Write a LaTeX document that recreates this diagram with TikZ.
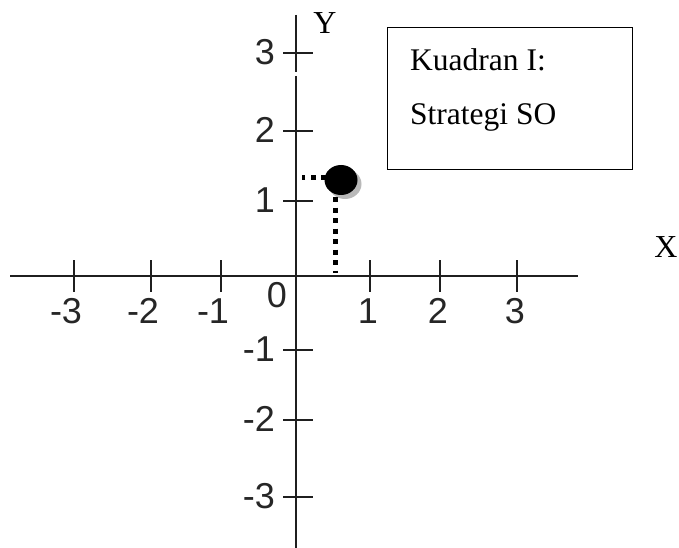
\documentclass[tikz,border=0pt]{standalone}
\usepackage{fontspec}
\setmainfont{Liberation Serif}
\newfontfamily\numfont{Liberation Sans}
\begin{document}
\begin{tikzpicture}[x=1pt,y=-1pt,
  axisline/.style={line width=2.7pt, color=black!88},
  tickline/.style={line width=2.7pt, color=black!88},
  num/.style={font=\numfont\fontsize{36}{36}\selectfont, inner sep=0pt, text=black!85},
  serifbig/.style={font=\fontsize{32}{32}\selectfont, inner sep=0pt},
  boxtext/.style={font=\fontsize{31.5}{31.5}\selectfont, inner sep=0pt, anchor=base west},
  dotline/.style={line width=5pt, dash pattern=on 5pt off 5.5pt},
]
\useasboundingbox (0,0) rectangle (679,548);
% axes
\coordinate (xl) at (10,276);
\coordinate (xr) at (578,276);
\coordinate (yt) at (296,15);
\coordinate (yg1) at (296,72);
\coordinate (yg2) at (296,76);
\coordinate (yb) at (296,548);
\draw[axisline] (xl) -- (xr);
\draw[axisline] (yt) -- (yg1);
\draw[axisline] (yg2) -- (yb);
% x ticks and labels
\foreach \xx/\lab/\nm in {74/{\llap{-}3}/xm3,151/{\llap{-}2}/xm2,221/{\llap{-}1}/xm1,370/1/xp1,440/2/xp2,517/3/xp3}{
  \coordinate (t\nm) at (\xx,260);
  \coordinate (b\nm) at (\xx,292);
  \draw[tickline] (t\nm) -- (b\nm);
  \node[num] (l\nm) at (\xx-2,311) {\lab};
}
\node[num] (l0) at (277,295) {0};
% y ticks and labels
\foreach \yy/\lab/\nm in {53/3/yp3,131/2/yp2,201/1/yp1,350/-1/ym1,420/-2/ym2,497/-3/ym3}{
  \coordinate (l\nm) at (283,\yy);
  \coordinate (r\nm) at (313,\yy);
  \draw[tickline] (l\nm) -- (r\nm);
  \node[num, anchor=east] (n\nm) at (275,\yy-1) {\lab};
}
% axis names
\node[serifbig] (ylab) at (325,23) {Y};
\node[serifbig] (xlab) at (666,247) {X};
% point with shadow and dotted guides
\fill[gray!55] (345,184) ellipse [x radius=16.5pt, y radius=15pt];
\fill[black] (341,180) ellipse [x radius=16.5pt, y radius=15pt];
\coordinate (dh1) at (326,177);
\coordinate (dh2) at (302,177);
\coordinate (dv1) at (335,197);
\coordinate (dv2) at (335,273);
\draw[dotline] (dh1) -- (dh2);
\draw[dotline] (dv1) -- (dv2);
% box
\node[draw, line width=0.9pt, minimum width=245pt, minimum height=142pt, inner sep=0pt] (box) at (509.5,98) {};
\node[boxtext] (k1) at (410,71) {Kuadran I:};
\node[boxtext] (k2) at (410,125) {Strategi SO};
\end{tikzpicture}
\end{document}
